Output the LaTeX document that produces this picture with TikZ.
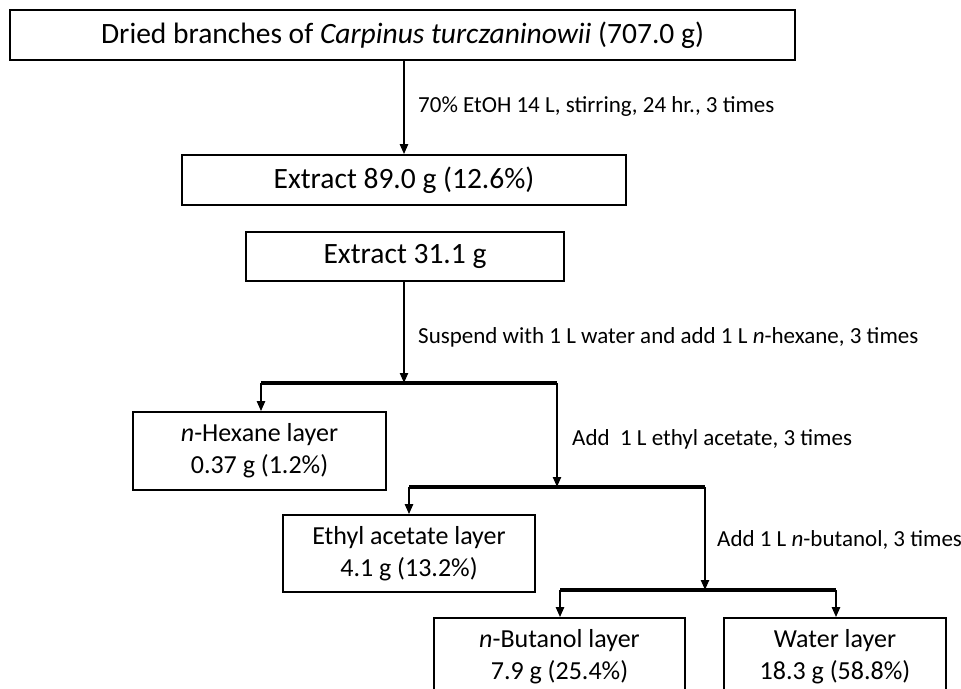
\documentclass[tikz,border=0pt]{standalone}
\usepackage{fontspec}
\setmainfont{Carlito}
\usetikzlibrary{arrows.meta}
\tikzset{
	rectnode/.style={rectangle, draw=black, line width=1.6pt, align=center, inner sep=0pt, font=\fontsize{29.5}{34}\selectfont},
	layernode/.style={rectnode, font=\fontsize{26}{32}\selectfont},
	labelnode/.style={anchor=west, inner sep=0pt, font=\fontsize{23}{27}\selectfont},
	myline/.style = {line width = 2.2pt, -{Triangle[length=10pt,width=8pt]}},
	mybar/.style = {line width = 3.6pt}
}
\begin{document}
\begin{tikzpicture}[x=1pt, y=-1pt]
		\useasboundingbox (0,0) rectangle (961,688);
		\node[rectnode, minimum width=785pt, minimum height=50pt] at (402.5,35) (dried) {Dried branches of \textit{Carpinus turczaninowii} (707.0 g)};
		\node[rectnode, minimum width=444pt, minimum height=50pt] at (404,180) (ext1) {Extract 89.0 g (12.6\%)};
		\node[rectnode, minimum width=318pt, minimum height=49pt] at (405,256.5) (ext2) {Extract 31.1 g};
		\node[layernode, minimum width=253pt, minimum height=78pt] at (259.5,451) (hex) {\textit{n}-Hexane layer\\0.37 g (1.2\%)};
		\node[layernode, minimum width=252pt, minimum height=77pt] at (409,553.5) (ethyl) {Ethyl acetate layer\\4.1 g (13.2\%)};
		\node[layernode, minimum width=251pt, minimum height=78pt] at (559.5,657) (buta) {\textit{n}-Butanol layer\\7.9 g (25.4\%)};
		\node[layernode, minimum width=222pt, minimum height=78pt] at (835,657) (water) {Water layer\\18.3 g (58.8\%)};
		
		\node[labelnode] at (418,106) (l1) {70\% EtOH 14 L, stirring, 24 hr., 3 times};
		\node[labelnode] at (418,337) (l2) {Suspend with 1 L water and add 1 L \textit{n}-hexane, 3 times};
		\node[labelnode] at (572,439) (l3) {Add \ 1 L ethyl acetate, 3 times};
		\node[labelnode] at (717,540) (l4) {Add 1 L \textit{n}-butanol, 3 times};
		
		\coordinate (s1) at (404,383);
		\coordinate (a1) at (261,383);
		\coordinate (b1) at (557,383);
		\coordinate (a2) at (409,487);
		\coordinate (b2) at (705,487);
		\coordinate (a3) at (560,590);
		\coordinate (b3) at (836,590);
		
		%Lines
		\draw[myline] (dried.south -| ext1.north) -- (ext1.north);
		\draw[myline] (ext2.south -| s1) -- (s1);
		\draw[mybar] (a1) -- (b1);
		\draw[myline] (a1) -- (a1 |- hex.north);
		\draw[myline] (b1) -- (b1 |- a2);
		\draw[mybar] (a2) -- (b2);
		\draw[myline] (a2) -- (a2 |- ethyl.north);
		\draw[myline] (b2) -- (b2 |- a3);
		\draw[mybar] (a3) -- (b3);
		\draw[myline] (a3) -- (a3 |- buta.north);
		\draw[myline] (b3) -- (b3 |- water.north);
	\end{tikzpicture}
\end{document}
